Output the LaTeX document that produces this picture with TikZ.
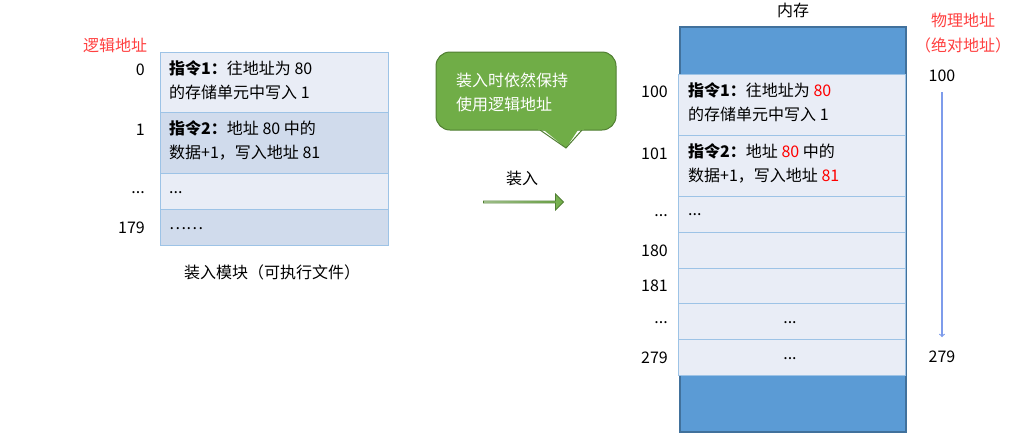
\documentclass[tikz,border=0pt]{standalone}
\usepackage{fontspec}
\setmainfont{Noto Sans CJK SC}
\usetikzlibrary{shapes.arrows}
\definecolor{rowa}{HTML}{E9EDF6}
\definecolor{rowb}{HTML}{D0DBEC}
\definecolor{rowline}{HTML}{9DC3E6}
\definecolor{memfill}{HTML}{5B9BD5}
\definecolor{memline}{HTML}{41719C}
\definecolor{gfill}{HTML}{70AD47}
\definecolor{gline}{HTML}{507E32}
\definecolor{rd}{HTML}{FF0000}
\tikzset{x=1pt,y=-1pt,
 txt/.style={font=\fontsize{16}{24}\selectfont,inner sep=0pt},
 cell/.style={draw=rowline,line width=1pt},
 lab/.style={txt,anchor=east},
 redlab/.style={txt,text=rd!75}}
\begin{document}
\begin{tikzpicture}
\useasboundingbox (0,0) rectangle (1020,440);
% left table
\draw[cell,fill=rowa] (160,52) rectangle (388,112);
\draw[cell,fill=rowb] (160,112) rectangle (388,173);
\draw[cell,fill=rowa] (160,173) rectangle (388,209);
\draw[cell,fill=rowb] (160,209) rectangle (388,245);
\node[txt,anchor=north west,align=left] (l1) at (169,60) {\textbf{指令1：}往地址为 80\\的存储单元中写入 1};
\node[txt,anchor=north west,align=left] (l2) at (169,120) {\textbf{指令2：}地址 80 中的\\数据+1，写入地址 81};
\node[txt,anchor=west] (l3) at (169,193) {...};
\node[txt,anchor=west] (l4) at (169,229) {……};
\node[redlab] (la) at (115,45) {逻辑地址};
\node[lab] (n0) at (145,70) {0};
\node[lab] (n1) at (145,130) {1};
\node[lab] (n2) at (145,193) {...};
\node[lab] (n3) at (145,228) {179};
\node[txt] (cap) at (272,272) {装入模块（可执行文件）};
% callout
\draw[fill=gfill,draw=gline,line width=1pt,rounded corners=14pt] (436,52) rectangle (616,130);
\fill[gfill] (540,127) -- (566,148) -- (580,127) -- cycle;
\draw[gline,line width=1pt] (540,130) -- (566,148) -- (582,130);
\fill[gfill] (538,122) rectangle (584,129.5);
\node[txt,text=white,align=left] (co) at (512,92) {装入时依然保持\\使用逻辑地址};
\node[txt] (zr) at (522,178) {装入};
\node[single arrow,draw=gline,left color=gfill!40,right color=gfill,minimum height=80pt,minimum width=16pt,single arrow head extend=3pt,inner sep=0pt,line width=0.8pt] (arr) at (523,202) {};
% memory
\draw[fill=memfill,draw=memline,line width=1.2pt] (680,27) rectangle (906,432);
\foreach \a/\b in {74/135,135/196,196/232,232/268,268/303,303/339,339/375}
  \draw[cell,fill=rowa] (678,\a) rectangle (905,\b);
\node[txt,anchor=north west,align=left] (m1) at (688,82) {\textbf{指令1：}往地址为 \textcolor{rd}{80}\\的存储单元中写入 1};
\node[txt,anchor=north west,align=left] (m2) at (688,143) {\textbf{指令2：}地址 \textcolor{rd}{80} 中的\\数据+1，写入地址 \textcolor{rd}{81}};
\node[txt,anchor=west] (m3) at (688,215) {...};
\node[txt] (m6) at (790,323) {...};
\node[txt] (m7) at (790,359) {...};
\node[txt] (mt) at (793,10) {内存};
\node[lab] (r1) at (668,92) {100};
\node[lab] (r2) at (668,154) {101};
\node[lab] (r3) at (668,216) {...};
\node[lab] (r4) at (668,251) {180};
\node[lab] (r5) at (668,286) {181};
\node[lab] (r6) at (668,323) {...};
\node[lab] (r7) at (668,358) {279};
\node[redlab] (pa) at (963,20) {物理地址};
\node[redlab] (pb) at (963,45) {（绝对地址）};
\node[txt] (p1) at (942,76) {100};
\node[txt] (p2) at (942,357) {279};
\draw[rowline!80!blue,line width=1.2pt,->] (p1.south) ++(0,10) -- ++(0,245);
\end{tikzpicture}
\end{document}
